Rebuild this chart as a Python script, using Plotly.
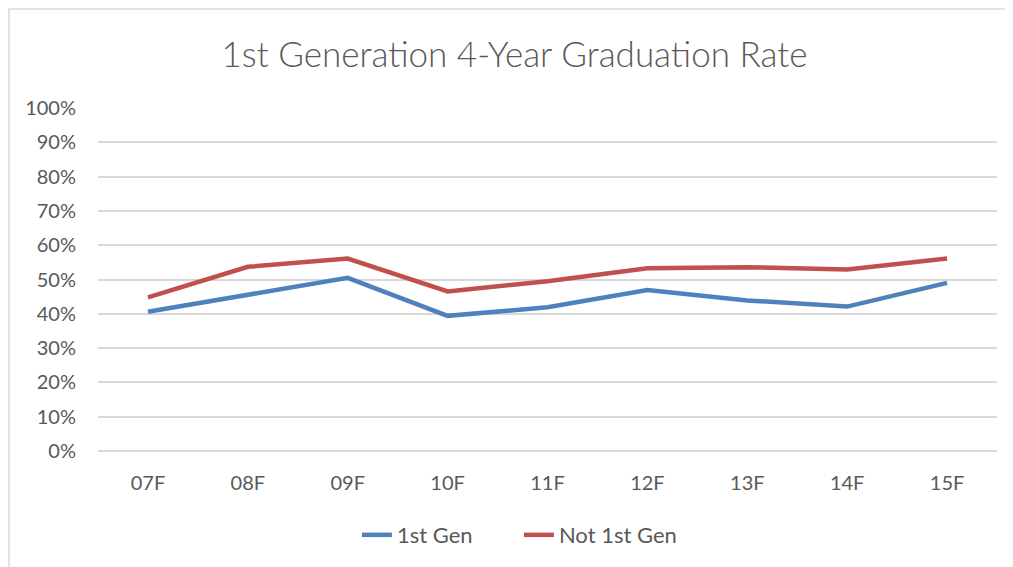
import plotly.graph_objects as go

categories = ["07F", "08F", "09F", "10F", "11F", "12F", "13F", "14F", "15F"]
first_gen = [0.406, 0.455, 0.505, 0.394, 0.419, 0.469, 0.439, 0.421, 0.490]
not_first_gen = [0.448, 0.537, 0.561, 0.465, 0.495, 0.533, 0.536, 0.529, 0.561]
series_names = ["1st Gen", "Not 1st Gen"]
y_ticks = [i / 10 for i in range(11)]

fig = go.Figure()
fig.add_trace(go.Scatter(x=categories, y=first_gen, name=series_names[0], mode="lines",
                         line=dict(color="#4F81BD", width=4.5)))
fig.add_trace(go.Scatter(x=categories, y=not_first_gen, name=series_names[1], mode="lines",
                         line=dict(color="#C0504D", width=4.5)))

font_fam = "Lato, Open Sans, sans-serif"
# page has an 8px body margin; plot area in page coords: x 98-997, y 108-451
fig.update_layout(
    width=1013, height=567,
    margin=dict(l=90, r=24, t=100, b=124),
    paper_bgcolor="white", plot_bgcolor="white",
    title=dict(text="1st Generation 4-Year Graduation Rate", x=0.5, xanchor="center",
               y=0.917, yanchor="middle",
               font=dict(family="Lato Light, Lato, sans-serif", size=35, color="#595959")),
    font=dict(family=font_fam, size=20, color="#595959"),
    legend=dict(orientation="h", x=0.288, xanchor="left", y=-0.245, yanchor="middle",
                font=dict(size=22, color="#595959"), entrywidth=117, entrywidthmode="pixels",
                tracegroupgap=0),
    showlegend=True,
    shapes=[dict(type="rect", xref="paper", yref="paper", x0=-0.099, x1=1.03,
                 y0=-0.5, y1=1.2886, line=dict(color="#D9D9D9", width=1.5), layer="below")],
)
fig.update_xaxes(type="category", range=[-0.5, 8.5], showgrid=False, showline=False,
                 zeroline=False, ticks="", ticklabelstandoff=18,
                 tickfont=dict(size=20, color="#595959"))
fig.update_yaxes(range=[0, 1], tickvals=y_ticks, tickformat=".0%", showgrid=True,
                 gridcolor="#D9D9D9", gridwidth=1.5, zeroline=True, zerolinecolor="#D9D9D9",
                 zerolinewidth=1.5, showline=False, ticks="", ticklabelstandoff=21,
                 tickfont=dict(size=20, color="#595959"))

fig.write_html("out.html")
